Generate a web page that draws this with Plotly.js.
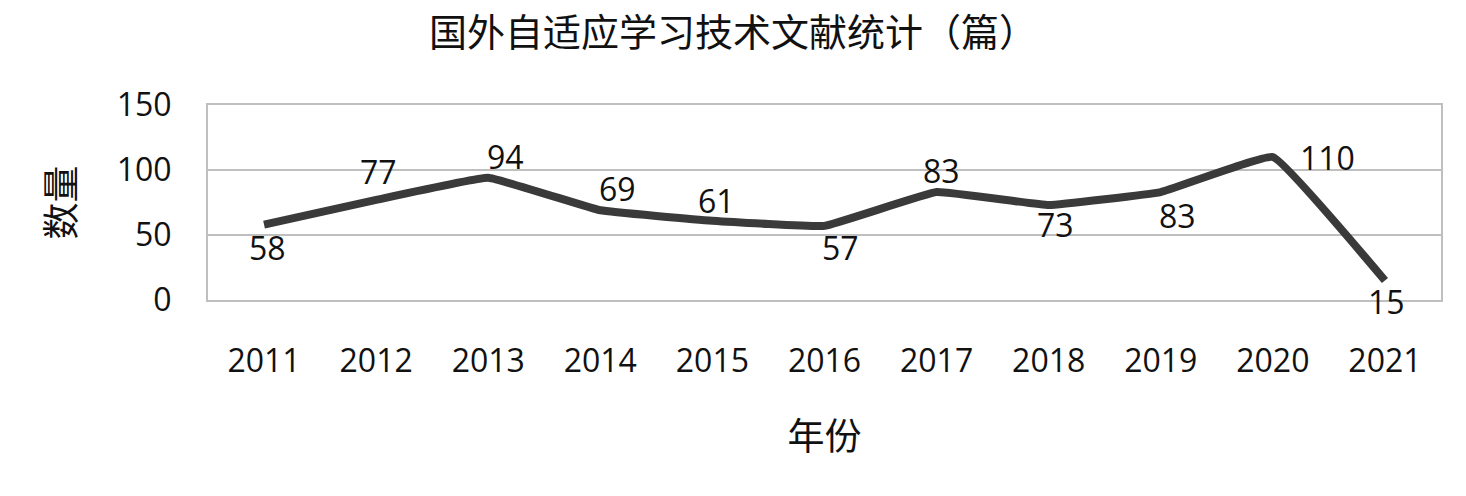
<!DOCTYPE html>
<html>
<head>
<meta charset="utf-8">
<script src="https://cdn.plot.ly/plotly-3.0.1.min.js"></script>
<style>
  html, body { margin: 0; padding: 0; background: #fff; }
  #chart { width: 1466px; height: 496px; }
</style>
</head>
<body>
<div id="chart"></div>
<script>
var years = ['2011', '2012', '2013', '2014', '2015', '2016', '2017', '2018', '2019', '2020', '2021'];
var counts = [58, 77, 94, 69, 61, 57, 83, 73, 83, 110, 15];
var yTicks = [0, 50, 100, 150];

// where each data label sits relative to its point (pixel nudges)
var labelNudge = [[3, -23], [2, 28], [17, 21], [17, 22], [4, 20], [16, -22],
                  [5, 22], [7, -19], [17, -23], [55, 0], [2, -21]];

var numFont = {family: '"Open Sans", "Noto Sans", sans-serif', size: 32, color: '#111'};
var cjkFont = {family: '"Noto Sans CJK SC", sans-serif', size: 37, color: '#111'};

var trace = {
    x: years,
    y: counts,
    type: 'scatter',
    mode: 'lines',
    line: {color: '#3a3a3a', width: 8, shape: 'spline', smoothing: 0.25},
    cliponaxis: false,
    hoverinfo: 'skip'
};

// category axis: annotations take the category index
var labels = years.map(function (yr, i) {
    return {
        x: i,
        y: counts[i],
        xref: 'x',
        yref: 'y',
        text: String(counts[i]),
        showarrow: false,
        font: numFont,
        xshift: labelNudge[i][0],
        yshift: labelNudge[i][1]
    };
});

var layout = {
    width: 1466,
    height: 496,
    margin: {l: 208, r: 25, t: 105, b: 196},
    paper_bgcolor: '#fff',
    plot_bgcolor: '#fff',
    showlegend: false,
    annotations: labels,
    title: {
        text: '国外自适应学习技术文献统计（篇）',
        font: {family: cjkFont.family, size: 38, color: '#111'},
        x: 0.5,
        xref: 'container',
        xanchor: 'center',
        y: 0.935,
        yref: 'container',
        yanchor: 'middle'
    },
    xaxis: {
        type: 'category',
        range: [-0.5, 10.5],
        showgrid: false,
        showline: true,
        linecolor: '#bfbfbf',
        linewidth: 2,
        mirror: true,
        ticks: '',
        ticklabelstandoff: 32,
        tickfont: numFont,
        title: {text: '年份', font: cjkFont, standoff: 44}
    },
    yaxis: {
        range: [0, 150],
        tickvals: yTicks,
        showgrid: true,
        gridcolor: '#bfbfbf',
        gridwidth: 2,
        zeroline: false,
        showline: true,
        linecolor: '#bfbfbf',
        linewidth: 2,
        mirror: true,
        ticks: '',
        ticklabelstandoff: 28,
        tickfont: numFont,
        title: {text: '数量', font: cjkFont, standoff: 30}
    }
};

Plotly.newPlot('chart', [trace], layout, {displayModeBar: false, staticPlot: true});
</script>
</body>
</html>
